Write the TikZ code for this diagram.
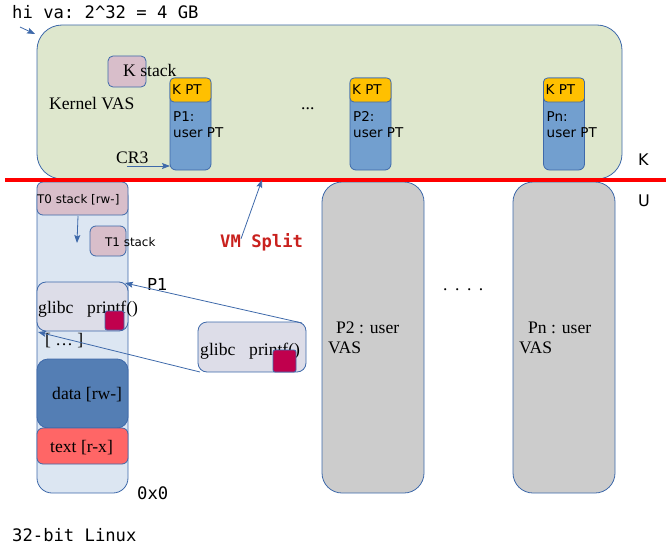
\documentclass[tikz,border=0pt]{standalone}
\usepackage{fontspec}
\setmainfont{Liberation Serif}
\setsansfont{DejaVu Sans}
\setmonofont{DejaVu Sans Mono}
\usetikzlibrary{arrows.meta,calc}
\definecolor{bordc}{RGB}{62,105,170}
\definecolor{kgreen}{RGB}{222,231,205}
\definecolor{kpink}{RGB}{216,190,202}
\definecolor{kyellow}{RGB}{255,192,0}
\definecolor{kblue}{RGB}{114,159,207}
\definecolor{ucol}{RGB}{220,230,242}
\definecolor{glibcc}{RGB}{221,221,232}
\definecolor{crim}{RGB}{192,0,77}
\definecolor{datac}{RGB}{84,126,180}
\definecolor{textc}{RGB}{255,102,102}
\definecolor{grayc}{RGB}{204,204,204}
\definecolor{vmred}{RGB}{201,33,30}
\begin{document}
\begin{tikzpicture}[x=1pt,y=-1pt,
  rbox/.style={draw=bordc, line width=0.8pt, inner sep=0pt, outer sep=0pt},
  lbl/.style={inner sep=0pt, anchor=base west},
  serif17/.style={lbl, font=\fontsize{17.6}{20}\selectfont\rmfamily},
  sans13/.style={lbl, font=\fontsize{13.5}{16}\selectfont\sffamily},
  sans12/.style={lbl, font=\fontsize{11.9}{14}\selectfont\sffamily},
  mono17/.style={lbl, font=\fontsize{17.2}{20}\selectfont\ttfamily},
  conn/.style={draw=bordc, line width=0.8pt, -{Stealth[length=8pt,width=6pt,inset=1.5pt]}}
]
\useasboundingbox (0,0) rectangle (666,551);

% kernel VAS
\node[rbox, fill=kgreen, rounded corners=25pt, minimum width=585pt, minimum height=154pt] (kern) at (329.5,102) {};
\node[rbox, fill=kpink, rounded corners=5pt, minimum width=38pt, minimum height=31pt] (kstackbox) at (127,71.5) {};
\node[serif17] (kstack) at (123,77) {K stack};
\node[serif17] (kvas) at (49,109) {Kernel VAS};

% page table columns
\foreach \nm/\cx/\lab in {p1/190.5/P1:, p2/370.5/P2:, pn/564/Pn:}{
  \node[rbox, fill=kblue, rounded corners=6pt, minimum width=41pt, minimum height=92pt] (\nm col) at (\cx,124) {};
  \node[rbox, fill=kyellow, rounded corners=4pt, minimum width=41pt, minimum height=24pt] (\nm kpt) at (\cx,90) {};
  \node[sans13] (\nm kptt) at ($(\nm col.north west)+(2,16)$) {K PT};
  \node[sans13] (\nm lab) at ($(\nm col.north west)+(3,43)$) {\lab};
  \node[sans13] (\nm user) at ($(\nm col.north west)+(3,59)$) {user PT};
}
\node[serif17] (dots3) at (301,109) {...};
\node[serif17] (cr3) at (116,163) {CR3};
\draw[conn] ($(cr3.base west)+(11,3)$) -- (p1col.west |- 0,166);

\node[lbl, font=\fontsize{16}{19}\selectfont\sffamily] (klab) at (638,165) {K};
\node[lbl, font=\fontsize{16}{19}\selectfont\sffamily] (ulab) at (638,206) {U};

% user space P1
\node[rbox, fill=ucol, rounded corners=15pt, minimum width=91pt, minimum height=311pt] (ucolumn) at (82.5,337.5) {};
\node[rbox, fill=kpink, rounded corners=6pt, minimum width=91pt, minimum height=33pt] (t0) at (82.5,198.5) {};
\node[sans12] (t0t) at (37,203) {T0 stack [rw-]};
\node[rbox, fill=kpink, rounded corners=6pt, minimum width=36pt, minimum height=30pt] (t1) at (108,241) {};
\node[sans12] (t1t) at (105,246) {T1 stack};
\draw[conn] ($(t0.south west)+(41,1)$) -- ($(t0.south west)+(40,28)$);

\node[rbox, fill=glibcc, rounded corners=9pt, minimum width=91pt, minimum height=49pt] (glibc1) at (82.5,306.5) {};
\node[serif17] (g1a) at (38,313) {glibc};
\node[serif17] (g1b) at (87,313) {printf()};
\node[rbox, fill=crim, rounded corners=2pt, minimum width=19pt, minimum height=19pt] (sq1) at (114.5,320.5) {};
\node[serif17] (ell) at (45,345) {[ … ]};

\node[rbox, fill=datac, rounded corners=11pt, minimum width=91pt, minimum height=69pt] (datab) at (82.5,393.5) {};
\node[serif17] (datat) at (52,399) {data [rw-]};
\node[rbox, fill=textc, rounded corners=6pt, minimum width=91pt, minimum height=36pt] (textb) at (82.5,446) {};
\node[serif17] (textt) at (50,452) {text [r-x]};
\node[mono17] (zero) at (137,499) {0x0};

\node[lbl, font=\fontsize{16.5}{19}\selectfont\sffamily] (p1lab) at (147,290) {P1};

\node[rbox, fill=glibcc, rounded corners=9pt, minimum width=108pt, minimum height=50pt] (glibc2) at (252,347) {};
\node[serif17] (g2a) at (200,355) {glibc};
\node[serif17] (g2b) at (249,355) {printf()};
\node[rbox, fill=crim, rounded corners=2pt, minimum width=23pt, minimum height=22pt] (sq2) at (284.5,361) {};

\draw[conn] ($(glibc2.north east)+(-4,1)$) -- ($(glibc1.north east)+(-3,1)$);
\draw[conn] ($(glibc2.south west)+(2,0)$) -- ($(glibc1.south west)+(1,1)$);

% other processes
\node[rbox, fill=grayc, rounded corners=20pt, minimum width=102pt, minimum height=311pt] (p2vas) at (373,337.5) {};
\node[serif17] (p2t1) at (336,333) {P2 : user};
\node[serif17] (p2t2) at (328,353) {VAS};
\node[rbox, fill=grayc, rounded corners=20pt, minimum width=102pt, minimum height=311pt] (pnvas) at (564,337.5) {};
\node[serif17] (pnt1) at (528,333) {Pn : user};
\node[serif17] (pnt2) at (519,353) {VAS};
\node[serif17] (dots4) at (443,290) {.\hspace{7.5pt}.\hspace{7.5pt}.\hspace{7.5pt}.};

% VM split line
\coordinate (splitL) at (5,180);
\coordinate (splitR) at (666,180);
\draw[red, line width=3.5pt] (splitL) -- (splitR);
\node[mono17, font=\fontsize{17.2}{20}\selectfont\ttfamily\bfseries, text=vmred] (vms) at (220,247) {VM Split};
\draw[conn] ($(vms.north west)+(21,6)$) -- ($(vms.north west)+(42,-53)$);

% header / footer
\node[mono17] (hiva) at (12,19) {hi va: 2\textasciicircum 32 = 4 GB};
\draw[conn] ($(hiva.base west)+(8,8)$) -- ($(kern.north west)+(-2,9)$);
\node[mono17] (linux) at (12,541) {32-bit Linux};
\end{tikzpicture}
\end{document}
